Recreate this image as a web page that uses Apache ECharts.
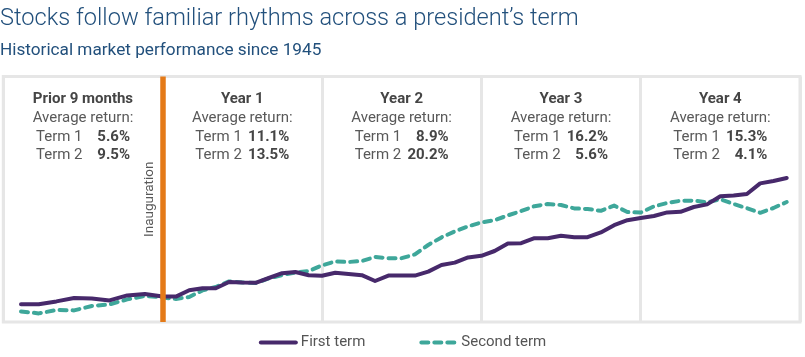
<!DOCTYPE html>
<html>
<head>
<meta charset="utf-8">
<script src="https://cdn.jsdelivr.net/npm/echarts@6/dist/echarts.min.js"></script>
<style>
html,body{margin:0;padding:0;background:#fff;}
#chart{width:805px;height:357px;}
</style>
</head>
<body>
<div id="chart"></div>
<script>
// Months relative to inauguration (prior period: -8..-1, then 0..47)
const priorMonths = [-8, -7, -6, -5, -4, -3, -2, -1];
const termMonthCount = 48;

// Cumulative performance index
const firstTerm = [
  9.4, 9.4, 10.8, 12.5, 12.3, 11.3, 13.8, 14.5,
  13.3, 13.2, 16.4, 17.4, 17.4, 20.5, 20.2, 20.1, 22.5, 24.9, 25.5, 23.9, 23.6,
  25.1, 24.5, 23.9, 21.0, 23.7, 23.7, 23.7, 25.7, 29.0, 30.2, 32.8, 33.6,
  36.0, 39.8, 39.9, 42.4, 42.4, 43.6, 42.9, 42.9, 45.3, 48.9, 51.4, 52.5,
  53.5, 55.3, 55.6, 58.0, 59.3, 63.4, 63.7, 64.5, 69.8, 71.0, 72.5
];
const secondTerm = [
  5.8, 4.8, 6.5, 6.3, 8.5, 9.3, 11.8, 13.5,
  12.8, 12.0, 13.0, 16.3, 18.0, 20.8, 20.3, 20.0, 22.3, 24.0, 25.3, 26.0, 28.8,
  30.8, 30.5, 31.0, 33.0, 32.4, 32.4, 34.3, 39.0, 42.8, 45.8, 48.3, 50.3,
  51.4, 53.8, 56.0, 58.4, 59.5, 59.0, 57.3, 57.0, 56.1, 58.7, 55.5, 55.2,
  58.3, 60.0, 61.1, 61.2, 60.3, 61.9, 59.5, 57.4, 55.1, 57.5, 60.5
];

const panelTitles = ['Prior 9 months', 'Year 1', 'Year 2', 'Year 3', 'Year 4'];
const term1Returns = ['5.6%', '11.1%', '8.9%', '16.2%', '15.3%'];
const term2Returns = ['9.5%', '13.5%', '20.2%', '5.6%', '4.1%'];
const seriesNames = ['First term', 'Second term'];

// Build month list; prior 9 months occupy one panel (12 axis units)
const months = priorMonths.slice();
for (let m = 0; m < termMonthCount; m++) months.push(m);
const toAxis = m => (m < 0 ? m * 12 / 9 : m);
const pairs = arr => arr.map((v, i) => [toAxis(months[i]), v]);

const FONT = 'Roboto, "Noto Sans", sans-serif';
const chart = echarts.init(document.getElementById('chart'));

const option = {
  backgroundColor: '#ffffff',
  animation: false,
  title: {
    text: 'Stocks follow familiar rhythms across a president\u2019s term',
    subtext: 'Historical market performance since 1945',
    left: 0,
    top: 5,
    padding: [0, 0, 0, 0],
    itemGap: 7,
    textStyle: { fontFamily: FONT, fontSize: 23.6, fontWeight: 300, color: '#22507c', lineHeight: 28 },
    subtextStyle: { fontFamily: FONT, fontSize: 17.2, fontWeight: 'normal', color: '#22507c', lineHeight: 21 }
  },
  legend: {
    data: seriesNames,
    bottom: 2,
    left: 'center',
    itemWidth: 35,
    itemHeight: 10,
    itemGap: 54,
    itemStyle: { opacity: 0 },
    lineStyle: { width: 4, cap: 'round' },
    textStyle: { fontFamily: FONT, fontSize: 15, color: '#555555' }
  },
  grid: {
    left: 3.3, right: 5, top: 76.5, bottom: 35,
    show: true, borderColor: '#e6e6e6', borderWidth: 3,
    containLabel: false
  },
  xAxis: {
    type: 'value', min: -12, max: 48, interval: 12,
    axisLine: { show: false }, axisTick: { show: false }, axisLabel: { show: false },
    splitLine: { show: true, lineStyle: { color: '#e6e6e6', width: 3 } }
  },
  yAxis: {
    type: 'value', min: 0.5, max: 123.25,
    axisLine: { show: false }, axisTick: { show: false }, axisLabel: { show: false },
    splitLine: { show: false }
  },
  series: [
    {
      name: 'inauguration', type: 'line', data: [], z: 2, silent: true,
      markLine: {
        symbol: 'none', silent: true, animation: false,
        lineStyle: { color: '#e47a18', width: 5.5, type: 'solid' },
        label: {
          show: true, formatter: 'Inauguration', position: 'insideMiddleTop',
          color: '#595959', fontFamily: FONT, fontSize: 13.5, distance: 6
        },
        data: [{ xAxis: 0 }]
      }
    },
    {
      name: seriesNames[0], type: 'line', data: pairs(firstTerm), z: 4,
      showSymbol: false, symbol: 'none',
      lineStyle: { color: '#47296b', width: 4, cap: 'round', join: 'round' },
      itemStyle: { color: '#47296b' }
    },
    {
      name: seriesNames[1], type: 'line', data: pairs(secondTerm), z: 3,
      showSymbol: false, symbol: 'none',
      lineStyle: { color: '#3ea79a', width: 4, type: [7, 6], cap: 'round', join: 'round' },
      itemStyle: { color: '#3ea79a' }
    }
  ]
};
chart.setOption(option);

// Panel header texts, centred on each panel
const graphics = [];
const rows = [99.5, 118, 137, 155.5];
panelTitles.forEach((t, i) => {
  const cx = chart.convertToPixel({ gridIndex: 0 }, [-6 + 12 * i, 60])[0];
  graphics.push({
    type: 'text', x: cx, y: rows[0], silent: true,
    style: { text: t, fontFamily: FONT, fontSize: 15, fontWeight: 'bold', fill: '#454545', align: 'center', verticalAlign: 'middle' }
  });
  graphics.push({
    type: 'text', x: cx, y: rows[1], silent: true,
    style: { text: 'Average return:', fontFamily: FONT, fontSize: 15, fill: '#595959', align: 'center', verticalAlign: 'middle' }
  });
  [[term1Returns[i], 'Term 1'], [term2Returns[i], 'Term 2']].forEach((r, j) => {
    graphics.push({
      type: 'text', x: cx, y: rows[2 + j], silent: true,
      style: {
        text: '{l|' + r[1] + '}{r|' + r[0] + '}',
        align: 'center', verticalAlign: 'middle',
        rich: {
          l: { width: 51, align: 'left', fontFamily: FONT, fontSize: 15, fill: '#595959', color: '#595959' },
          r: { width: 43, align: 'right', fontFamily: FONT, fontSize: 15, fontWeight: 'bold', fill: '#454545', color: '#454545' }
        }
      }
    });
  });
});
chart.setOption({ graphic: graphics });
</script>
</body>
</html>
